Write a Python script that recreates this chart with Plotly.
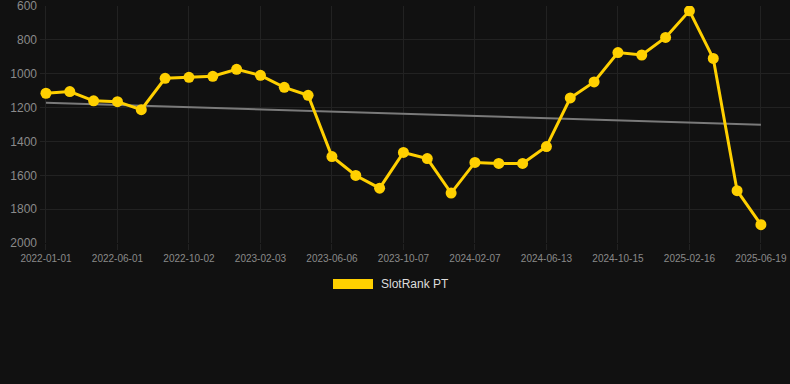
import numpy as np
import plotly.graph_objects as go

# Category labels (every third one is shown on the axis)
dates = [
    "2022-01-01", "2022-02-20", "2022-04-11", "2022-06-01", "2022-07-12", "2022-08-22",
    "2022-10-02", "2022-11-12", "2022-12-23", "2023-02-03", "2023-03-16", "2023-04-26",
    "2023-06-06", "2023-07-17", "2023-08-27", "2023-10-07", "2023-11-17", "2023-12-28",
    "2024-02-07", "2024-03-19", "2024-05-01", "2024-06-13", "2024-07-24", "2024-09-03",
    "2024-10-15", "2024-11-25", "2025-01-05", "2025-02-16", "2025-03-29", "2025-05-09",
    "2025-06-19",
]
tick_labels = dates[::3]

rank = [
    1115, 1105, 1160, 1165, 1212, 1027, 1021, 1015, 974, 1009,
    1080, 1127, 1489, 1601, 1676, 1465, 1501, 1705, 1524, 1530,
    1530, 1430, 1143, 1048, 875, 889, 785, 628, 909, 1691,
    1892,
]

y_ticks = [600, 800, 1000, 1200, 1400, 1600, 1800, 2000]

# Linear trend
idx = np.arange(len(rank))
slope, intercept = np.polyfit(idx, rank, 1)
trend = slope * idx + intercept

YELLOW = "#ffd000"
BG = "#111111"
GRID = "#222222"

fig = go.Figure()
fig.add_trace(go.Scatter(
    x=idx, y=trend, mode="lines",
    line=dict(color="#7a7a7a", width=2),
    hoverinfo="skip", showlegend=False,
))
fig.add_trace(go.Scatter(
    x=idx, y=rank, mode="lines+markers", name="SlotRank PT",
    line=dict(color=YELLOW, width=3),
    marker=dict(color=YELLOW, size=11),
    showlegend=False,
))

fig.update_layout(
    width=790, height=384,
    paper_bgcolor=BG, plot_bgcolor=BG,
    margin=dict(l=40, r=0, t=6, b=141),
    font=dict(family="Liberation Sans, Arial, sans-serif", color="#8a8a8a"),
    xaxis=dict(
        range=[-0.25, 31.22],
        tickmode="array", tickvals=list(idx[::3]), ticktext=tick_labels,
        tickfont=dict(size=10, color="#8a8a8a"),
        showgrid=True, gridcolor=GRID, gridwidth=1,
        zeroline=False, showline=False,
        ticks="outside", ticklen=6, tickcolor=GRID,
        ticklabeloverflow="allow",
    ),
    yaxis=dict(
        range=[2000, 599.5],
        tickmode="array", tickvals=y_ticks, ticktext=[str(v) for v in y_ticks],
        tickfont=dict(size=12, color="#8a8a8a"),
        showgrid=True, gridcolor=GRID, gridwidth=1,
        zeroline=False, showline=False,
        ticks="", ticklabelstandoff=2,
        ticklabeloverflow="allow",
    ),
    showlegend=False,
)

# Custom legend box (Chart.js style)
fig.add_shape(type="rect", xref="paper", yref="paper",
              x0=(333 - 40) / 750, x1=(373 - 40) / 750,
              y0=(243 - 289) / 237, y1=(243 - 279) / 237,
              fillcolor=YELLOW, line=dict(width=0))
fig.add_annotation(xref="paper", yref="paper",
                   x=(379 - 40) / 750, y=(243 - 284) / 237,
                   text="SlotRank PT", showarrow=False,
                   xanchor="left", yanchor="middle",
                   font=dict(size=12, color="#dddddd"))

fig.write_html(
    "out.html",
    config={"displayModeBar": False},
    post_script="document.body.style.margin='0';document.body.style.background='#111111';",
)
